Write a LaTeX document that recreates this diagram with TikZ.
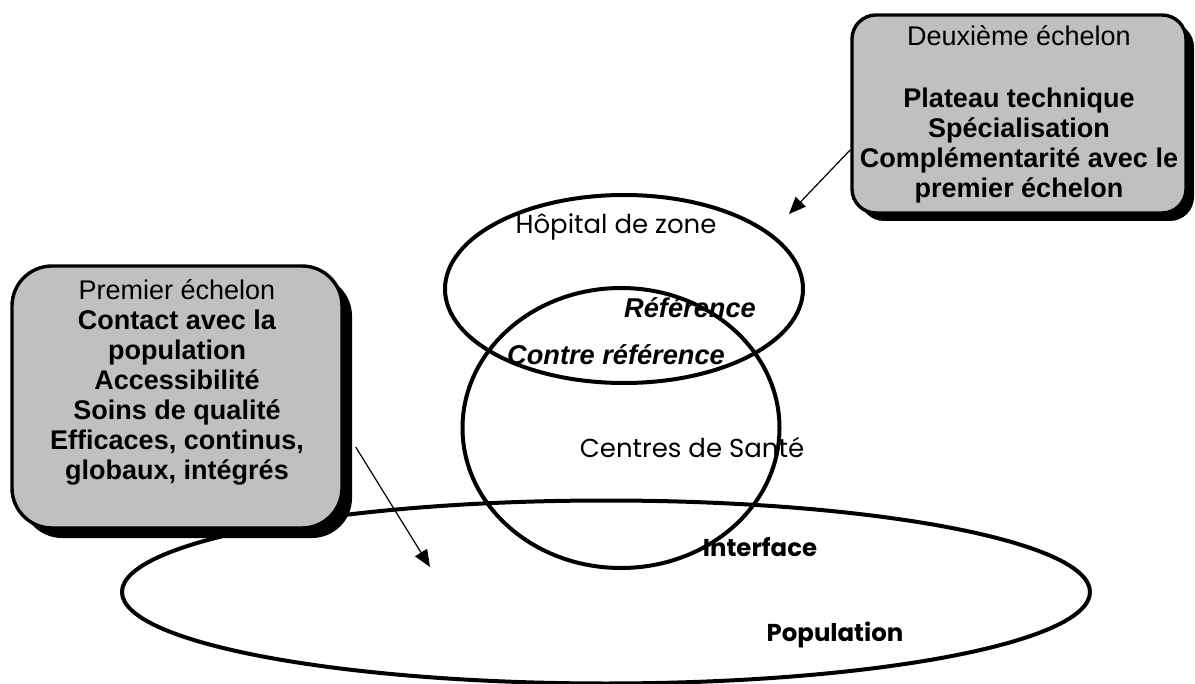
\documentclass[tikz,border=0pt]{standalone}
\usepackage{fontspec}
\setmainfont{Liberation Sans}
\newfontfamily\gothic{Poppins}
\usepackage{tikz}
\usetikzlibrary{arrows.meta,positioning,calc,shapes.geometric,shadows}
\definecolor{EchelonGray}{HTML}{C0C0C0}

\tikzset{
  levelbox/.style={draw=black,line width=1.7pt,fill=EchelonGray,inner sep=0pt,
    drop shadow={shadow xshift=4pt,shadow yshift=-4pt,fill=black,opacity=1}},
  ring/.style={ellipse,draw=black,line width=2pt,inner sep=0pt},
  pointer/.style={-{Triangle[length=8.5pt,width=7pt]},line width=0.6pt},
  boxtext/.style={align=center,font={\fontsize{13.5}{15}\selectfont}},
  zonetext/.style={font={\gothic\fontsize{13}{15}\selectfont}},
  zonebold/.style={font={\gothic\fontsize{12.2}{14}\selectfont\bfseries}},
  fluxtext/.style={font={\fontsize{13.6}{15}\selectfont\bfseries\itshape}}
}

\begin{document}
\begin{tikzpicture}[x=0.5pt,y=-0.5pt]
  \useasboundingbox (0,0) rectangle (1195,684);
  % the three levels
  \node[ring,minimum width=484pt,minimum height=91.5pt] (population) at (606,592) {};
  \node[ring,minimum width=179pt,minimum height=94pt] (hopital) at (624,289) {};
  \node[ring,minimum width=158.5pt,minimum height=140pt] (centres) at (621,428) {};

  \node[zonetext] (hopitallabel) at (616,227) {Hôpital de zone};
  \node[zonetext] (centreslabel) at (692,447) {Centres de Santé};
  \node[fluxtext] (reference) at (690,308) {Référence};
  \node[fluxtext] (contreref) at (616,355) {Contre référence};
  \node[zonebold] (interface) at (760,547) {Interface};
  \node[zonebold] (poplabel) at (835,635) {Population};

  % the two echelons
  \node[levelbox,rounded corners=12pt,minimum width=167pt,minimum height=99pt,boxtext]
    (deuxieme) at (1019,114)
    {Deuxième échelon\\[16pt]\textbf{Plateau technique}\\\textbf{Spécialisation}\\
     \textbf{Complémentarité avec le}\\\textbf{premier échelon}};
  \node[levelbox,rounded corners=20pt,minimum width=165pt,minimum height=131pt,
    drop shadow={shadow xshift=5pt,shadow yshift=-5pt,fill=black,opacity=1}]
    (premier) at (177,397) {};
  \node[boxtext] (premiertext) at (177,382)
    {Premier échelon\\\textbf{Contact avec la}\\\textbf{population}\\
     \textbf{Accessibilité}\\\textbf{Soins de qualité}\\
     \textbf{Efficaces, continus,}\\\textbf{globaux, intégrés}};

  \coordinate (hopitalmark) at (789,214);
  \coordinate (popmark) at (430,567);
  \draw[pointer] (deuxieme.192) -- (hopitalmark);
  \draw[pointer] ([shift={(6pt,-25pt)}]premier.east) -- (popmark);
\end{tikzpicture}
\end{document}
